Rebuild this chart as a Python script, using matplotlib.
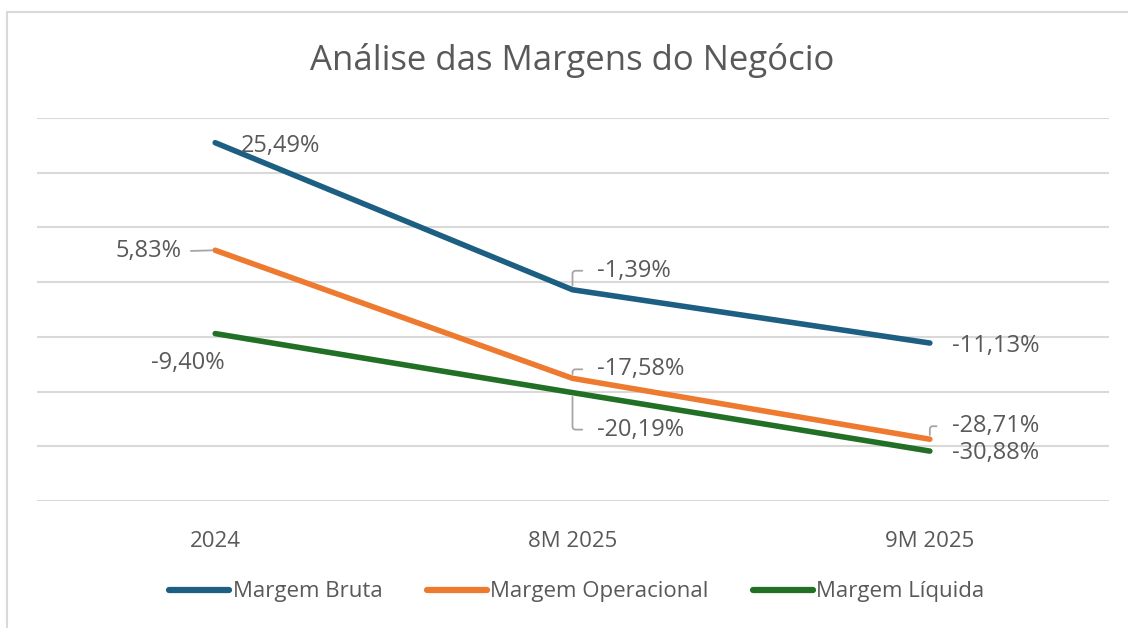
import matplotlib.pyplot as plt
from matplotlib.patches import Rectangle

plt.rcParams['font.family'] = ['Open Sans', 'DejaVu Sans']

# Data
periods = ["2024", "8M 2025", "9M 2025"]
margem_bruta = [25.49, -1.39, -11.13]
margem_operacional = [5.83, -17.58, -28.71]
margem_liquida = [-9.40, -20.19, -30.88]

series = [
    ("Margem Bruta", margem_bruta, "#1c5f82"),
    ("Margem Operacional", margem_operacional, "#ee7a30"),
    ("Margem Líquida", margem_liquida, "#217026"),
]

TXT = "#595959"
GRID = "#d9d9d9"
LEADER = "#a6a6a6"

fig = plt.figure(figsize=(11.28, 6.28), dpi=100)
fig.patch.set_facecolor("white")

# chart border (Excel chart area)
fig.patches.append(Rectangle((7 / 1128, -0.05), 1.2, 1 - 12 / 628 + 0.05,
                             transform=fig.transFigure, fill=False,
                             edgecolor="#d9d9d9", linewidth=1.5))

ax = fig.add_axes([36.5 / 1128, 1 - 501 / 628, 1072 / 1128, 383 / 628])
x = list(range(len(periods)))

for name, vals, col in series:
    ax.plot(x, vals, color=col, linewidth=4.0, solid_capstyle="round",
            solid_joinstyle="round", label=name, zorder=3)

ax.set_xlim(-0.5, 2.5)
ax.set_ylim(-40, 30)
ax.set_yticks(range(-40, 31, 10))
ax.yaxis.grid(True, color=GRID, linewidth=1.5)
ax.set_axisbelow(True)
ax.tick_params(axis="y", left=False, labelleft=False)
ax.tick_params(axis="x", bottom=False, colors=TXT, labelsize=16, pad=18)
ax.set_xticks(x)
ax.set_xticklabels(periods)
for s in ax.spines.values():
    s.set_visible(False)

def fmt(v):
    return f"{v:.2f}%".replace(".", ",")

# data labels: (series values, index, offset in pixels, ha, leader style)
labels = [
    (margem_bruta, 0, (65, -3), "center", None),
    (margem_operacional, 0, (-34, -1), "right", "h"),
    (margem_liquida, 0, (-27, -29), "center", None),
    (margem_bruta, 1, (25, 19), "left", "up"),
    (margem_operacional, 1, (25, 9), "left", "up"),
    (margem_liquida, 1, (25, -37), "left", "down"),
    (margem_bruta, 2, (22, -3), "left", None),
    (margem_operacional, 2, (22, 13), "left", "up"),
    (margem_liquida, 2, (22, -2), "left", None),
]

for vals, i, off, ha, leader in labels:
    kw = dict(xy=(i, vals[i]), xytext=off, textcoords="offset pixels",
              ha=ha, va="center", fontsize=17, color=TXT, zorder=4)
    if leader == "h":
        kw["arrowprops"] = dict(arrowstyle="-", color=LEADER, lw=1.3,
                                shrinkA=5, shrinkB=2, relpos=(1, 0.5))
    elif leader in ("up", "down"):
        kw["arrowprops"] = dict(arrowstyle="-", color=LEADER, lw=1.3,
                                shrinkA=9, shrinkB=3, relpos=(0, 0.5),
                                connectionstyle="angle,angleA=0,angleB=90,rad=3")
    ax.annotate(fmt(vals[i]), **kw)

fig.text(572 / 1128, 1 - 60 / 628, "Análise das Margens do Negócio",
         ha="center", va="center", fontsize=25, color=TXT)

leg = fig.legend(loc="center", bbox_to_anchor=(577 / 1128, 1 - 592 / 628),
                 ncol=3, frameon=False, fontsize=16, handlelength=2.7,
                 handletextpad=0.15, columnspacing=2.0)
for t in leg.get_texts():
    t.set_color(TXT)
for h in leg.get_lines():
    h.set_linewidth(4.5)
    h.set_solid_capstyle("round")

fig.savefig("out.png", dpi=100)
